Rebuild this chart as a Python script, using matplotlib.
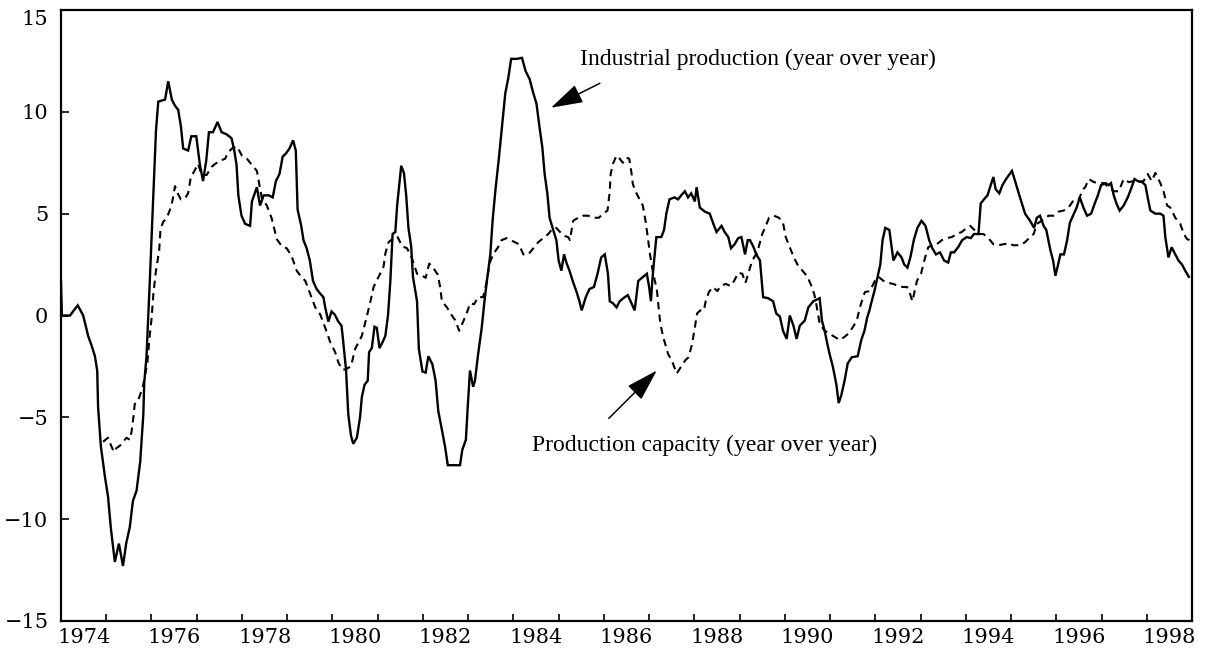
import numpy as np
import matplotlib
matplotlib.use('Agg')
import matplotlib.pyplot as plt

# industrial production, year over year %
ip_t = [1974.00, 1974.02, 1974.20, 1974.30, 1974.37, 1974.49, 1974.60, 1974.68, 1974.75, 1974.80,
        1974.82, 1974.88, 1974.97, 1975.04, 1975.10, 1975.19, 1975.28, 1975.37, 1975.44, 1975.52,
        1975.59, 1975.67, 1975.75, 1975.82, 1975.84, 1975.89, 1975.93, 1975.96, 1976.01, 1976.06,
        1976.10, 1976.15, 1976.22, 1976.30, 1976.37, 1976.45, 1976.52, 1976.59, 1976.65, 1976.70,
        1976.81, 1976.88, 1976.99, 1977.07, 1977.14, 1977.21, 1977.27, 1977.36, 1977.46, 1977.55,
        1977.66, 1977.77, 1977.83, 1977.88, 1977.92, 1977.99, 1978.07, 1978.18, 1978.22, 1978.33,
        1978.40, 1978.48, 1978.59, 1978.68, 1978.75, 1978.83, 1978.90, 1978.97, 1979.05, 1979.13,
        1979.19, 1979.23, 1979.31, 1979.36, 1979.43, 1979.50, 1979.57, 1979.65, 1979.72, 1979.80,
        1979.84, 1979.91, 1979.98, 1980.05, 1980.13, 1980.20, 1980.23, 1980.30, 1980.35, 1980.41,
        1980.46, 1980.54, 1980.61, 1980.65, 1980.71, 1980.78, 1980.81, 1980.87, 1980.93, 1980.98,
        1981.04, 1981.11, 1981.17, 1981.23, 1981.28, 1981.33, 1981.39, 1981.43, 1981.48, 1981.52,
        1981.58, 1981.63, 1981.68, 1981.74, 1981.78, 1981.87, 1981.91, 1981.99, 1982.06, 1982.12,
        1982.21, 1982.28, 1982.34, 1982.41, 1982.49, 1982.55, 1982.67, 1982.82, 1982.87, 1982.95,
        1982.99, 1983.04, 1983.11, 1983.15, 1983.22, 1983.30, 1983.36, 1983.42, 1983.49, 1983.54,
        1983.60, 1983.68, 1983.75, 1983.82, 1983.89, 1983.95, 1984.07, 1984.19, 1984.27, 1984.36,
        1984.43, 1984.51, 1984.58, 1984.64, 1984.69, 1984.75, 1984.80, 1984.88, 1984.95, 1985.00,
        1985.06, 1985.12, 1985.17, 1985.24, 1985.31, 1985.39, 1985.46, 1985.51, 1985.60, 1985.68,
        1985.78, 1985.86, 1985.94, 1986.02, 1986.09, 1986.13, 1986.20, 1986.28, 1986.35, 1986.46,
        1986.53, 1986.61, 1986.68, 1986.76, 1986.87, 1986.95, 1987.00, 1987.04, 1987.07, 1987.11,
        1987.16, 1987.27, 1987.33, 1987.38, 1987.45, 1987.56, 1987.64, 1987.71, 1987.79, 1987.86,
        1987.93, 1988.01, 1988.05, 1988.12, 1988.23, 1988.34, 1988.42, 1988.49, 1988.60, 1988.67,
        1988.75, 1988.81, 1988.89, 1988.97, 1989.04, 1989.12, 1989.18, 1989.23, 1989.30, 1989.37,
        1989.45, 1989.52, 1989.63, 1989.74, 1989.81, 1989.89, 1989.96, 1990.04, 1990.11, 1990.19,
        1990.26, 1990.33, 1990.44, 1990.52, 1990.63, 1990.77, 1990.82, 1990.88, 1990.94, 1990.99,
        1991.06, 1991.14, 1991.19, 1991.25, 1991.32, 1991.39, 1991.48, 1991.61, 1991.69, 1991.76,
        1991.82, 1991.87, 1991.92, 1991.98, 1992.05, 1992.11, 1992.16, 1992.22, 1992.31, 1992.36,
        1992.40, 1992.49, 1992.58, 1992.64, 1992.71, 1992.78, 1992.85, 1992.93, 1993.02, 1993.11,
        1993.19, 1993.26, 1993.34, 1993.43, 1993.52, 1993.61, 1993.67, 1993.74, 1993.83, 1993.92,
        1994.02, 1994.11, 1994.18, 1994.28, 1994.33, 1994.40, 1994.48, 1994.55, 1994.61, 1994.66,
        1994.74, 1994.81, 1994.89, 1995.02, 1995.09, 1995.17, 1995.24, 1995.31, 1995.42, 1995.51,
        1995.57, 1995.64, 1995.72, 1995.78, 1995.87, 1995.93, 1995.98, 1996.03, 1996.09, 1996.17,
        1996.24, 1996.30, 1996.37, 1996.45, 1996.52, 1996.60, 1996.68, 1996.77, 1996.85, 1996.92,
        1996.99, 1997.09, 1997.16, 1997.21, 1997.27, 1997.33, 1997.40, 1997.49, 1997.58, 1997.65,
        1997.73, 1997.80, 1997.90, 1997.97, 1998.02, 1998.08, 1998.19, 1998.30, 1998.37, 1998.41,
        1998.48, 1998.55, 1998.63, 1998.70, 1998.78, 1998.85, 1998.93]
ip_v = [1.6, 0.0, 0.0, 0.3, 0.5, 0.0, -1.0, -1.5, -2.0, -2.7,
        -4.5, -6.4, -7.9, -8.9, -10.4, -12.1, -11.2, -12.3, -11.2, -10.4,
        -9.1, -8.6, -7.2, -4.85, -3.3, -2.0, 0.0, 1.55, 4.2, 6.8,
        9.1, 10.5, 10.55, 10.6, 11.5, 10.6, 10.3, 10.1, 9.3, 8.2,
        8.1, 8.8, 8.8, 7.4, 6.6, 7.6, 9.0, 9.0, 9.5, 9.0,
        8.9, 8.7, 8.1, 7.4, 5.9, 4.9, 4.5, 4.4, 5.6, 6.3,
        5.4, 5.9, 5.9, 5.8, 6.6, 6.95, 7.8, 7.95, 8.2, 8.6,
        8.1, 5.2, 4.4, 3.7, 3.3, 2.7, 1.7, 1.3, 1.1, 0.9,
        0.4, -0.3, 0.2, 0.05, -0.3, -0.5, -1.1, -2.65, -4.85, -5.9,
        -6.3, -6.0, -5.0, -4.0, -3.4, -3.2, -1.8, -1.6, -0.55, -0.6,
        -1.6, -1.3, -1.0, 0.05, 1.7, 4.0, 4.1, 5.4, 6.5, 7.35,
        7.0, 5.9, 4.3, 3.4, 1.9, 0.7, -1.65, -2.75, -2.8, -2.0,
        -2.4, -3.2, -4.7, -5.5, -6.45, -7.35, -7.35, -7.35, -6.6, -6.1,
        -4.5, -2.7, -3.5, -3.2, -1.9, -0.6, 0.7, 1.8, 3.0, 4.65,
        6.1, 7.75, 9.3, 10.9, 11.7, 12.6, 12.6, 12.65, 12.0, 11.6,
        11.0, 10.4, 9.2, 8.25, 6.95, 6.0, 4.8, 4.2, 3.7, 2.7,
        2.2, 3.0, 2.6, 2.2, 1.7, 1.2, 0.7, 0.25, 0.9, 1.3,
        1.4, 2.05, 2.85, 3.0, 2.05, 0.7, 0.6, 0.4, 0.7, 0.9,
        1.0, 0.6, 0.25, 1.7, 1.9, 2.05, 1.4, 0.7, 1.7, 2.7,
        3.85, 3.85, 4.2, 5.0, 5.7, 5.8, 5.7, 5.9, 6.1, 5.8,
        6.0, 5.6, 6.3, 5.3, 5.1, 5.0, 4.5, 4.1, 4.4, 4.1,
        3.85, 3.3, 3.5, 3.8, 3.85, 3.0, 3.7, 3.7, 3.4, 3.0,
        2.7, 0.9, 0.85, 0.7, 0.1, -0.05, -0.75, -1.15, 0.0, -0.5,
        -1.15, -0.5, -0.25, 0.4, 0.7, 0.85, -0.25, -0.75, -1.4, -1.9,
        -2.5, -3.4, -4.3, -3.9, -3.2, -2.35, -2.05, -2.0, -1.2, -0.75,
        -0.1, 0.25, 0.7, 1.2, 1.9, 2.5, 3.7, 4.3, 4.2, 3.35,
        2.7, 3.1, 2.85, 2.5, 2.35, 2.9, 3.7, 4.3, 4.65, 4.4,
        3.7, 3.3, 3.0, 3.1, 2.7, 2.6, 3.1, 3.1, 3.35, 3.7,
        3.85, 3.8, 4.0, 4.0, 5.5, 5.7, 5.9, 6.4, 6.8, 6.2,
        6.0, 6.4, 6.7, 7.1, 6.6, 6.0, 5.5, 5.0, 4.65, 4.3,
        4.8, 4.9, 4.4, 4.2, 3.2, 2.7, 1.95, 2.4, 3.0, 3.0,
        3.7, 4.55, 4.9, 5.3, 5.8, 5.3, 4.9, 5.0, 5.5, 5.9,
        6.4, 6.5, 6.4, 6.5, 5.9, 5.5, 5.15, 5.4, 5.8, 6.2,
        6.7, 6.6, 6.55, 6.4, 5.8, 5.15, 5.0, 5.0, 4.9, 3.85,
        2.85, 3.35, 3.0, 2.7, 2.5, 2.2, 1.9]

# production capacity, year over year %
cap_t = [1974.93, 1975.04, 1975.11, 1975.17, 1975.23, 1975.30, 1975.37, 1975.45, 1975.52, 1975.56,
         1975.60, 1975.63, 1975.70, 1975.81, 1975.91, 1975.96, 1976.00, 1976.04, 1976.09, 1976.17,
         1976.20, 1976.26, 1976.34, 1976.41, 1976.46, 1976.52, 1976.58, 1976.65, 1976.74, 1976.81,
         1976.87, 1976.95, 1977.03, 1977.11, 1977.22, 1977.33, 1977.41, 1977.52, 1977.63, 1977.69,
         1977.78, 1977.89, 1978.00, 1978.11, 1978.18, 1978.33, 1978.44, 1978.55, 1978.66, 1978.77,
         1978.88, 1978.99, 1979.10, 1979.21, 1979.31, 1979.40, 1979.51, 1979.62, 1979.73, 1979.84,
         1979.95, 1980.06, 1980.13, 1980.21, 1980.28, 1980.41, 1980.50, 1980.58, 1980.65, 1980.73,
         1980.77, 1980.84, 1980.91, 1981.02, 1981.13, 1981.17, 1981.24, 1981.32, 1981.43, 1981.54,
         1981.65, 1981.76, 1981.87, 1981.95, 1982.06, 1982.14, 1982.24, 1982.33, 1982.38, 1982.42,
         1982.53, 1982.64, 1982.72, 1982.80, 1982.90, 1982.99, 1983.04, 1983.13, 1983.22, 1983.33,
         1983.40, 1983.48, 1983.55, 1983.66, 1983.74, 1983.85, 1983.94, 1984.03, 1984.12, 1984.22,
         1984.33, 1984.44, 1984.55, 1984.66, 1984.77, 1984.88, 1984.95, 1985.03, 1985.14, 1985.21,
         1985.25, 1985.32, 1985.43, 1985.54, 1985.65, 1985.78, 1985.89, 1985.98, 1986.08, 1986.13,
         1986.15, 1986.20, 1986.28, 1986.35, 1986.42, 1986.50, 1986.56, 1986.61, 1986.64, 1986.72,
         1986.79, 1986.86, 1986.92, 1986.97, 1987.02, 1987.09, 1987.17, 1987.20, 1987.24, 1987.28,
         1987.33, 1987.42, 1987.50, 1987.61, 1987.71, 1987.80, 1987.87, 1987.95, 1988.01, 1988.06,
         1988.13, 1988.21, 1988.25, 1988.32, 1988.41, 1988.51, 1988.58, 1988.69, 1988.80, 1988.88,
         1988.97, 1989.06, 1989.13, 1989.21, 1989.28, 1989.39, 1989.50, 1989.58, 1989.65, 1989.76,
         1989.87, 1989.96, 1990.02, 1990.09, 1990.20, 1990.28, 1990.39, 1990.50, 1990.57, 1990.65,
         1990.70, 1990.77, 1990.88, 1990.99, 1991.10, 1991.21, 1991.32, 1991.40, 1991.51, 1991.59,
         1991.66, 1991.73, 1991.77, 1991.88, 1991.99, 1992.07, 1992.18, 1992.29, 1992.40, 1992.50,
         1992.60, 1992.70, 1992.77, 1992.82, 1992.92, 1993.01, 1993.10, 1993.17, 1993.28, 1993.36,
         1993.47, 1993.58, 1993.69, 1993.80, 1993.91, 1994.02, 1994.10, 1994.19, 1994.28, 1994.39,
         1994.50, 1994.61, 1994.72, 1994.83, 1994.95, 1995.05, 1995.20, 1995.31, 1995.42, 1995.50,
         1995.57, 1995.68, 1995.83, 1995.94, 1996.05, 1996.16, 1996.27, 1996.38, 1996.49, 1996.59,
         1996.64, 1996.72, 1996.83, 1996.94, 1997.05, 1997.16, 1997.27, 1997.38, 1997.49, 1997.60,
         1997.71, 1997.82, 1997.93, 1998.02, 1998.11, 1998.19, 1998.30, 1998.37, 1998.45, 1998.52,
         1998.63, 1998.74, 1998.82, 1998.89, 1998.95]
cap_v = [-6.2, -6.0, -6.4, -6.7, -6.5, -6.4, -6.2, -6.0, -6.1, -5.7,
         -5.0, -4.35, -4.2, -3.5, -2.3, -1.0, -0.2, 1.0, 2.05, 3.2,
         4.25, 4.6, 4.8, 5.2, 5.6, 6.35, 6.0, 5.7, 5.75, 6.0,
         6.8, 7.1, 7.45, 6.9, 6.9, 7.3, 7.45, 7.6, 7.7, 8.0,
         8.2, 8.3, 7.85, 7.7, 7.5, 7.1, 5.75, 5.4, 4.75, 3.75,
         3.4, 3.3, 2.9, 2.2, 1.9, 1.7, 1.05, 0.4, 0.05, -0.6,
         -1.3, -1.8, -2.3, -2.65, -2.65, -2.5, -1.65, -1.3, -1.0, -0.3,
         0.05, 0.7, 1.4, 1.9, 2.4, 3.05, 3.6, 3.75, 3.9, 3.4,
         3.3, 2.8, 2.05, 2.0, 1.85, 2.55, 2.3, 2.0, 1.4, 0.7,
         0.4, 0.0, -0.25, -0.75, -0.25, 0.25, 0.6, 0.55, 0.9, 0.9,
         1.55, 2.6, 3.0, 3.35, 3.7, 3.8, 3.7, 3.6, 3.5, 3.0,
         3.0, 3.3, 3.6, 3.8, 4.0, 4.3, 4.3, 4.1, 3.9, 3.85,
         3.7, 4.65, 4.8, 4.9, 4.9, 4.8, 4.8, 5.0, 5.15, 6.1,
         6.95, 7.45, 7.85, 7.7, 7.5, 7.75, 7.7, 7.0, 6.45, 6.0,
         5.7, 5.4, 4.65, 3.85, 3.0, 2.05, 1.3, 0.6, -0.25, -0.75,
         -1.2, -1.9, -2.2, -2.85, -2.5, -2.2, -2.05, -1.4, -0.6, 0.1,
         0.25, 0.25, 0.7, 1.15, 1.4, 1.2, 1.45, 1.55, 1.45, 1.7,
         2.1, 2.05, 1.6, 2.2, 2.7, 3.1, 4.0, 4.4, 4.8, 4.9,
         4.8, 4.55, 3.85, 3.45, 2.85, 2.5, 2.2, 1.9, 1.55, 1.05,
         0.5, -0.4, -0.75, -0.9, -1.05, -1.2, -1.05, -0.9, -0.55, -0.25,
         0.4, 0.9, 1.15, 1.2, 1.7, 1.9, 1.7, 1.6, 1.55, 1.45,
         1.4, 1.4, 1.05, 0.7, 1.7, 2.05, 2.85, 3.35, 3.5, 3.5,
         3.7, 3.8, 3.85, 4.0, 4.1, 4.3, 4.4, 4.2, 4.0, 4.0,
         3.8, 3.5, 3.45, 3.5, 3.55, 3.45, 3.45, 3.6, 3.85, 4.0,
         4.5, 4.65, 4.9, 4.9, 5.1, 5.15, 5.3, 5.65, 5.65, 6.2,
         6.3, 6.7, 6.55, 6.5, 6.5, 6.3, 6.1, 6.1, 6.7, 6.55,
         6.6, 6.55, 6.6, 6.95, 6.6, 7.0, 6.5, 6.1, 5.4, 5.3,
         4.8, 4.5, 4.0, 3.75, 3.7]

yticks = [-15, -10, -5, 0, 5, 10, 15]
year_ticks = list(range(1975, 1999))
year_labels = ['1974', '1976', '1978', '1980', '1982', '1984', '1986', '1988',
               '1990', '1992', '1994', '1996', '1998']

ip_label = 'Industrial production (year over year)'
cap_label = 'Production capacity (year over year)'

fig = plt.figure(figsize=(12.06, 6.5), dpi=100)
ax = fig.add_axes([61/1206, 29/650, 1131/1206, 611/650])

ax.plot(ip_t, ip_v, color='black', lw=1.7, solid_joinstyle='miter')
ax.plot(cap_t, cap_v, color='black', lw=1.5, linestyle=(0, (3.5, 2.5)))

ax.set_xlim(1974, 1999)
ax.set_ylim(-15, 15)

# year labels sit in the middle of each labelled year, ticks on year boundaries
label_pos = [int(y) + 0.5 for y in year_labels]
ax.set_xticks(label_pos)
ax.set_xticklabels(year_labels)
ax.set_xticks(year_ticks, minor=True)
ax.tick_params(axis='x', which='major', length=0, pad=5)
ax.tick_params(axis='x', which='minor', direction='in', length=5, width=1.2)

ax.set_yticks(yticks)
ax.set_yticklabels([str(v).replace('-', '\u2212') for v in yticks])
ax.tick_params(axis='y', direction='in', length=6, width=1.2, pad=9)

for lab in ax.get_xticklabels() + ax.get_yticklabels():
    lab.set_fontfamily('DejaVu Serif')
    lab.set_fontsize(15)
ax.get_yticklabels()[-1].set_va('top')

for s in ax.spines.values():
    s.set_linewidth(1.6)

# annotations
ax.text(1985.47, 12.55, ip_label, family='Liberation Serif', fontsize=17,
        ha='left', va='center')
ax.annotate('', xy=(1984.83, 10.2), xytext=(1985.91, 11.4),
            arrowprops=dict(arrowstyle='-|>,head_length=2.0,head_width=0.6',
                            mutation_scale=10, color='black', lw=1.1,
                            shrinkA=0, shrinkB=0))

ax.text(1984.41, -6.37, cap_label, family='Liberation Serif', fontsize=17,
        ha='left', va='center')
ax.annotate('', xy=(1987.17, -2.7), xytext=(1986.11, -5.05),
            arrowprops=dict(arrowstyle='-|>,head_length=2.0,head_width=0.6',
                            mutation_scale=10, color='black', lw=1.1,
                            shrinkA=0, shrinkB=0))

plt.savefig('out.png', dpi=100)
